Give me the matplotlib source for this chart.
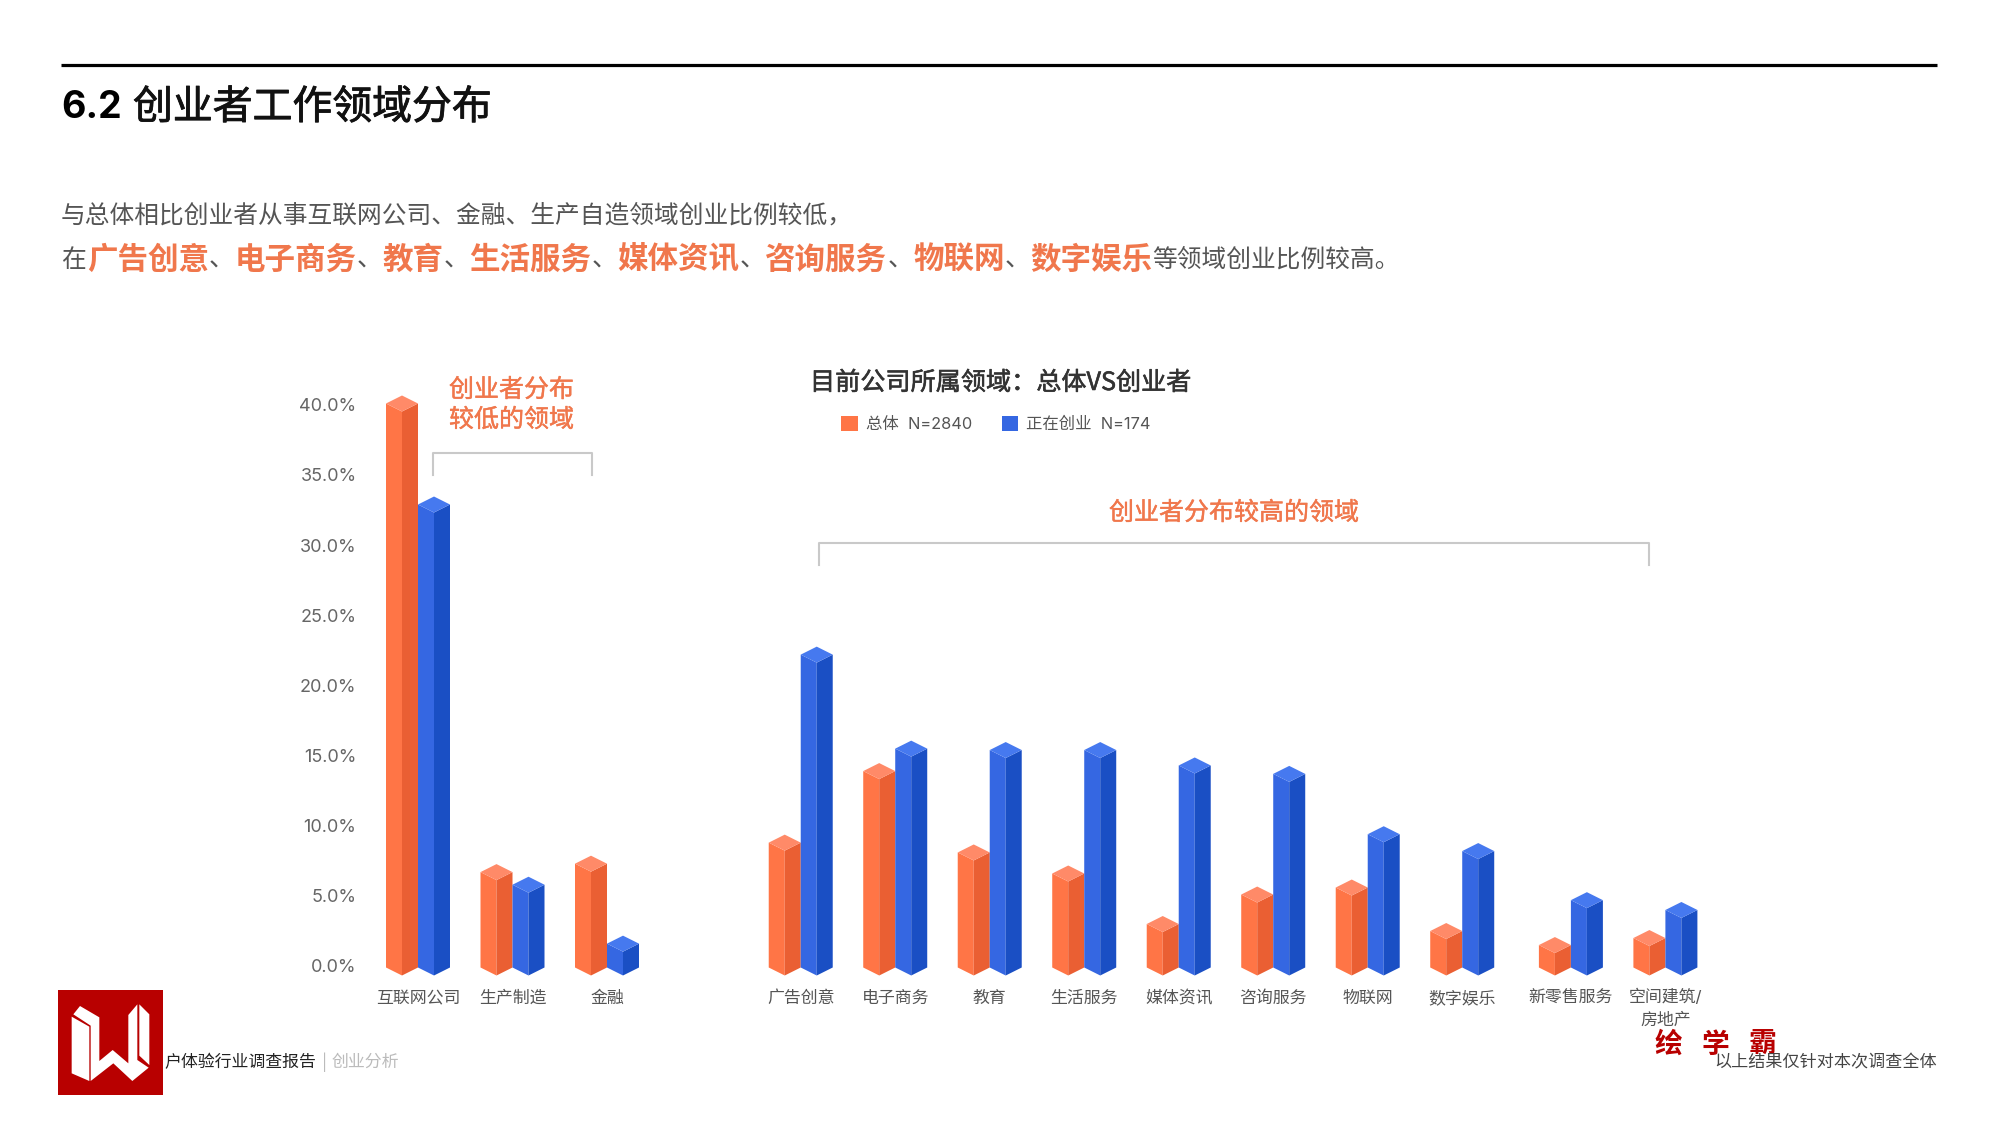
import numpy as np
import matplotlib
matplotlib.use('Agg')
from matplotlib import pyplot as plt
from matplotlib import patheffects as pe
from matplotlib.patches import Patch, Polygon, Rectangle
from matplotlib.transforms import ScaledTranslation

plt.rcParams['font.family'] = ['Inter', 'Noto Sans CJK SC', 'DejaVu Sans']

# data
categories = ['互联网公司', '生产制造', '金融', '广告创意', '电子商务', '教育', '生活服务',
              '媒体资讯', '咨询服务', '物联网', '数字娱乐', '新零售服务', '空间建筑/\n房地产']
total = [40.2, 6.8, 7.4, 8.9, 14.0, 8.2, 6.7, 3.1, 5.2, 5.7, 2.6, 1.6, 2.1]
founders = [33.0, 5.9, 1.7, 22.3, 15.6, 15.5, 15.5, 14.4, 13.8, 9.5, 8.3, 4.8, 4.1]
series_names = ['总体  N=2840', '正在创业  N=174']
y_ticks = [0, 5, 10, 15, 20, 25, 30, 35, 40]
highlights = ['广告创意', '电子商务', '教育', '生活服务', '媒体资讯', '咨询服务', '物联网', '数字娱乐']

# slots on the x axis, the groups are not evenly spaced
slots = np.array([0, 1, 2, 4.05, 5.05, 6.05, 7.05, 8.05, 9.05, 10.05, 11.05, 12.2, 13.2])

ORANGE = ('#ff7546', '#ea5f33', '#ff8a68')
BLUE = ('#3567e2', '#1a4fc4', '#4679ef')
ACCENT = '#f0774c'
CJK = ['Noto Sans CJK SC']
W, H = 2000, 1135
DPI = 100

# no medium weight to pick from, so thicken regular text a little
MEDIUM = [pe.withStroke(linewidth=0.4, foreground='#333333')]
MEDIUM_ACCENT = [pe.withStroke(linewidth=0.3, foreground=ACCENT)]
MEDIUM_DARK = [pe.withStroke(linewidth=0.6, foreground='#111111')]

fig = plt.figure(figsize=(W / DPI, H / DPI), dpi=DPI, facecolor='white')


def px_rect(x0, y0, x1, y1):
    return [x0 / W, 1 - y1 / H, (x1 - x0) / W, (y1 - y0) / H]


# overlay in pixel coordinates for page furniture
page = fig.add_axes([0, 0, 1, 1], zorder=0)
page.set_xlim(0, W)
page.set_ylim(H, 0)
page.axis('off')

# chart axes: 94.5 px per slot, 14.03 px per percent
px_x, px_y = 94.5, 14.03
x_left, x_right = 360, 1760
y_zero = 967.5
y_low, y_high = -1.2, 45
ax = fig.add_axes(px_rect(x_left, y_zero - y_high * px_y, x_right, y_zero - y_low * px_y), zorder=2)
ax.patch.set_alpha(0)
ax.set_xlim(-(418 - x_left) / px_x, (x_right - 418) / px_x)
ax.set_ylim(y_low, y_high)
for s in ax.spines.values():
    s.set_visible(False)


def draw_bar(ax, xl, width, v, cols, d=0.57):
    xm = xl + width / 2
    xr = xl + width
    ax.fill([xl, xm, xm, xl], [0, -d, v - d, v], color=cols[0], lw=0, clip_on=False)
    ax.fill([xm, xr, xr, xm], [-d, 0, v, v - d], color=cols[1], lw=0, clip_on=False)
    ax.fill([xl, xm, xr, xm], [v, v + d, v, v - d], color=cols[2], lw=0, clip_on=False)


bar_w = 32 / px_x
for pos, a, b in zip(slots, total, founders):
    draw_bar(ax, pos - bar_w, bar_w, a, ORANGE)
    draw_bar(ax, pos, bar_w, b, BLUE)

ax.set_yticks(y_ticks)
ax.set_yticklabels(['%.1f%%' % t for t in y_ticks], fontsize=13, color='#666666')
ax.set_xticks(slots)
ax.set_xticklabels(categories, fontsize=12.2, color='#555555', linespacing=1.6)
ax.tick_params(axis='both', length=0)
ax.tick_params(axis='y', pad=2.5)
ax.tick_params(axis='x', pad=13.5)
# top alignment goes by the ink of each label, which makes the row uneven
for lab in ax.get_xticklabels():
    lab.set_verticalalignment('baseline')
# baseline means the last line, so the two-line label hangs from the top instead
two_lines = ax.get_xticklabels()[-1]
two_lines.set_verticalalignment('top')
two_lines.set_transform(two_lines.get_transform() + ScaledTranslation(0, 14 / DPI, fig.dpi_scale_trans))
nudge = ScaledTranslation(0, 1.5 / DPI, fig.dpi_scale_trans)
for lab in ax.get_yticklabels():
    lab.set_transform(lab.get_transform() + nudge)

# legend
handles = [Patch(facecolor=ORANGE[0], label=series_names[0]), Patch(facecolor=BLUE[0], label=series_names[1])]
page.legend(handles=handles, loc='center', bbox_to_anchor=(996, 424), bbox_transform=page.transData,
            ncol=2, frameon=False, fontsize=11.8, handlelength=1.0, handleheight=1.0,
            handletextpad=0.5, columnspacing=1.8, labelcolor='#555555')

# header
page.plot([61, 1937], [65, 65], color='black', lw=2.3, solid_capstyle='butt')
page.text(61, 108, '6.2', fontsize=27, fontweight='bold', color='black', va='center', ha='left')
page.text(133, 108, '创业者工作领域分布', fontsize=28.7, color='#111111', va='center', ha='left',
          family=CJK, path_effects=MEDIUM_DARK)
page.text(61, 216, '与总体相比创业者从事互联网公司、金融、生产自造领域创业比例较低，', fontsize=17.8, color='#555555',
          va='center', ha='left', family=CJK)


def run(x, text, size, color, weight='normal'):
    page.text(x, 260, text, fontsize=size, color=color, fontweight=weight, va='center', ha='left', family=CJK)
    return x + len(text) * size * DPI / 72


run(61, '在', 17.8, '#555555')
x = 86.7
for i, word in enumerate(highlights):
    x = run(x, word, 22, ACCENT, 'bold')
    if i < len(highlights) - 1:
        x = run(x, '、', 18.5, '#555555')
run(x, '等领域创业比例较高。', 17.8, '#555555')

# chart title and notes
page.text(810, 383, '目前公司所属领域：总体VS创业者', fontsize=18.1, color='#333333',
          va='center', ha='left', family=CJK, path_effects=MEDIUM)
page.text(511.5, 390, '创业者分布', fontsize=18, color=ACCENT, va='center', ha='center',
          family=CJK, path_effects=MEDIUM_ACCENT)
page.text(511.5, 420, '较低的领域', fontsize=18, color=ACCENT, va='center', ha='center',
          family=CJK, path_effects=MEDIUM_ACCENT)
page.text(1234, 513, '创业者分布较高的领域', fontsize=18, color=ACCENT, va='center', ha='center',
          family=CJK, path_effects=MEDIUM_ACCENT)
page.plot([433, 433, 592, 592], [475, 453, 453, 475], color='#c9c9c9', lw=1.5)
page.plot([819, 819, 1649, 1649], [565, 543, 543, 565], color='#c9c9c9', lw=1.5)

page.add_patch(Rectangle((57.5, 990), 105.5, 105, facecolor='#b80000', edgecolor='none'))


def logo_poly(points):
    pts = [(50 + px / 3, 985 + py / 3) for px, py in points]
    page.add_patch(Polygon(pts, closed=True, facecolor='white', edgecolor='none'))


logo_poly([(65, 95), (118, 125), (118, 288), (65, 265)])
logo_poly([(70, 88), (90, 63), (148, 97), (148, 228), (188, 195), (235, 235), (235, 90), (262, 58), (262, 225),
           (296, 248), (247, 288), (190, 235), (122, 288), (122, 122)])
logo_poly([(268, 58), (298, 88), (298, 240), (268, 212)])

# footer
for ch, cx in zip('绘学霸', [1668, 1715, 1762]):
    page.text(cx, 1045, ch, fontsize=20, fontweight='bold', color='#b80000', va='center', ha='center',
              family=CJK, zorder=1)
page.text(164, 1062, '户体验行业调查报告', fontsize=12.2, color='#222222', va='center', ha='left', family=CJK, zorder=3)
page.text(322, 1062, '|', fontsize=11, color='#bbbbbb', va='center', ha='left', zorder=3)
page.text(332, 1062, '创业分析', fontsize=12.2, color='#bbbbbb', va='center', ha='left', family=CJK, zorder=3)
page.text(1937, 1062, '以上结果仅针对本次调查全体', fontsize=12.3, color='#444444', va='center', ha='right',
          family=CJK, zorder=3)

fig.savefig('out.png', dpi=DPI)
